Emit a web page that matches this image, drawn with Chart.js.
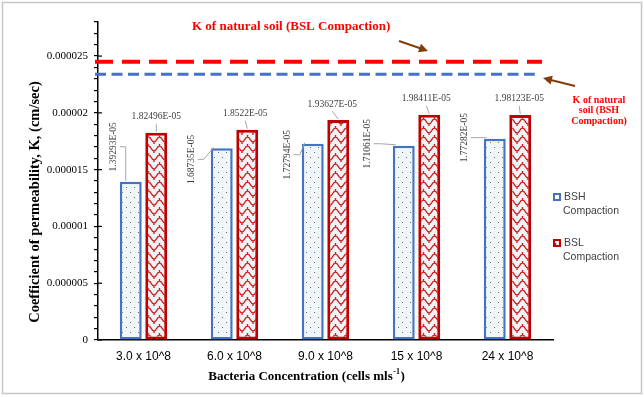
<!DOCTYPE html>
<html>
<head>
<meta charset="utf-8">
<script src="https://cdn.jsdelivr.net/npm/chart.js@4"></script>
<style>
    html, body { margin: 0; padding: 0; background: #fff; }
</style>
</head>
<body>
<canvas id="chart" width="644" height="397"></canvas>
<script>
const categories = ['3.0 x 10^8', '6.0 x 10^8', '9.0 x 10^8', '15 x 10^8', '24 x 10^8'];
const seriesNames = ['BSH Compaction', 'BSL Compaction'];
const bshValues = [1.39293e-5, 1.68735e-5, 1.72794e-5, 1.71061e-5, 1.77282e-5];
const bslValues = [1.82496e-5, 1.85220e-5, 1.93627e-5, 1.98411e-5, 1.98123e-5];
const yTickValues = [0, 0.000005, 0.00001, 0.000015, 0.00002, 0.000025];
const yMax = 0.000028;

// K of natural soil, drawn as dashed reference lines
const naturalSoilBSL = 0.0000245;
const naturalSoilBSH = 0.0000234;

// label placement tweaks (px), like the hand-moved labels of the original
const bshLabelShift = [[-17, -35], [-30, 11], [-25, 11], [-36, -2], [-30, -1]];
const bslLabelShift = [0, -2, -6, -3, -1];

const blue = '#4472C4';
const red = '#C00000';
const brown = '#843C0C';

const formatK = v => Number((v * 1e5).toPrecision(6)).toString() + 'E-05';

function dotPattern() {
    const c = document.createElement('canvas');
    c.width = 8; c.height = 10;
    const g = c.getContext('2d');
    g.fillStyle = '#f1f6f9';
    g.fillRect(0, 0, 8, 10);
    g.fillStyle = '#6b6b6b';
    g.fillRect(2, 2, 1, 1);
    g.fillRect(6, 7, 1, 1);
    return g.createPattern(c, 'repeat');
}

function wavePattern() {
    const c = document.createElement('canvas');
    c.width = 11; c.height = 9;
    const g = c.getContext('2d');
    g.fillStyle = '#eef3f6';
    g.fillRect(0, 0, 11, 9);
    g.strokeStyle = '#cf2020';
    g.lineWidth = 1.4;
    g.beginPath();
    g.moveTo(0, 7);
    g.bezierCurveTo(3, 7, 2.5, 2, 5.5, 2);
    g.bezierCurveTo(8.5, 2, 8, 7, 11, 7);
    g.moveTo(5.5, 2);
    g.lineTo(5.5, 0);
    g.moveTo(0, 7);
    g.lineTo(0, 9);
    g.moveTo(11, 7);
    g.lineTo(11, 9);
    g.stroke();
    return g.createPattern(c, 'repeat');
}

const dots = dotPattern();
const waves = wavePattern();

function arrow(ctx, x1, y1, x2, y2) {
    const a = Math.atan2(y2 - y1, x2 - x1);
    ctx.save();
    ctx.strokeStyle = brown;
    ctx.fillStyle = brown;
    ctx.lineWidth = 2;
    ctx.beginPath();
    ctx.moveTo(x1, y1);
    ctx.lineTo(x2 - 6 * Math.cos(a), y2 - 6 * Math.sin(a));
    ctx.stroke();
    ctx.beginPath();
    ctx.moveTo(x2, y2);
    ctx.lineTo(x2 - 9 * Math.cos(a) + 4.5 * Math.sin(a), y2 - 9 * Math.sin(a) - 4.5 * Math.cos(a));
    ctx.lineTo(x2 - 9 * Math.cos(a) - 4.5 * Math.sin(a), y2 - 9 * Math.sin(a) + 4.5 * Math.cos(a));
    ctx.closePath();
    ctx.fill();
    ctx.restore();
}

const decorations = {
    id: 'decorations',
    beforeDraw(chart) {
        const ctx = chart.ctx;
        ctx.save();
        ctx.fillStyle = '#fff';
        ctx.fillRect(0, 0, chart.width, chart.height);
        ctx.strokeStyle = '#c6c6c6';
        ctx.lineWidth = 1.5;
        ctx.strokeRect(2.5, 2.5, chart.width - 5, chart.height - 6);
        ctx.restore();
    },
    afterDraw(chart) {
        const { ctx, chartArea: area, scales: { y } } = chart;
        ctx.save();

        // major ticks crossing the axis
        ctx.strokeStyle = '#000';
        ctx.lineWidth = 1.2;
        yTickValues.forEach(v => {
            const py = y.getPixelForValue(v);
            ctx.beginPath();
            ctx.moveTo(area.left, py);
            ctx.lineTo(area.left + 4, py);
            ctx.stroke();
        });

        // natural soil reference lines
        const w = area.right - area.left;
        ctx.lineCap = 'butt';
        ctx.strokeStyle = '#FF0000';
        ctx.lineWidth = 4;
        ctx.setLineDash([18, 9]);
        let py = y.getPixelForValue(naturalSoilBSL);
        ctx.beginPath();
        ctx.moveTo(area.left - 3, py);
        ctx.lineTo(area.left + w * 0.976, py);
        ctx.stroke();
        ctx.strokeStyle = blue;
        ctx.lineWidth = 3;
        ctx.setLineDash([11, 5.5]);
        py = y.getPixelForValue(naturalSoilBSH);
        ctx.beginPath();
        ctx.moveTo(area.left - 3, py);
        ctx.lineTo(area.left + w * 0.96, py);
        ctx.stroke();
        ctx.setLineDash([]);

        arrow(ctx, 399, 41, 428, 51);
        arrow(ctx, 575, 86, 543, 78);

        ctx.fillStyle = '#FF0000';
        ctx.font = 'bold 13px "Liberation Serif"';
        ctx.textAlign = 'left';
        ctx.textBaseline = 'middle';
        ctx.fillText('K of natural soil (BSL Compaction)', 192, 27);
        ctx.font = 'bold 10px "Liberation Serif"';
        ctx.textAlign = 'center';
        ['K of natural', 'soil (BSH', 'Compaction)'].forEach((t, i) => ctx.fillText(t, 599, 100 + i * 10.5));

        // data labels with leader lines
        ctx.font = '9.5px "Liberation Serif"';
        ctx.fillStyle = '#404040';
        ctx.strokeStyle = '#a6a6a6';
        ctx.lineWidth = 1;
        chart.getDatasetMeta(0).data.forEach((bar, i) => {
            const lx = bar.x + bshLabelShift[i][0];
            const ly = bar.y + bshLabelShift[i][1];
            ctx.save();
            ctx.translate(lx, ly);
            ctx.rotate(-Math.PI / 2);
            ctx.textAlign = 'center';
            ctx.fillText(formatK(bshValues[i]), 0, 0);
            ctx.restore();
            const ex = lx + 12;
            const tx = Math.max(ex, bar.x - 8);
            ctx.beginPath();
            ctx.moveTo(lx + 6, ly);
            ctx.lineTo(ex, ly);
            ctx.lineTo(tx, bar.y - 1);
            ctx.stroke();
        });
        chart.getDatasetMeta(1).data.forEach((bar, i) => {
            const lx = bar.x + bslLabelShift[i];
            const ly = bar.y - 16;
            ctx.textAlign = 'center';
            ctx.fillText(formatK(bslValues[i]), lx, ly);
            ctx.beginPath();
            ctx.moveTo(lx, ly + 7);
            ctx.lineTo(bar.x, bar.y - 1);
            ctx.stroke();
        });

        // legend
        const legendX = area.right;
        [[197, 211], [243, 257]].forEach(([ty, cy], i) => {
            ctx.fillStyle = i === 0 ? '#fff' : waves;
            ctx.fillRect(legendX, ty - 4, 8, 8);
            ctx.strokeStyle = i === 0 ? blue : red;
            ctx.lineWidth = 2;
            ctx.strokeRect(legendX + 1, ty - 3, 6, 6);
            ctx.fillStyle = '#404040';
            ctx.font = '10.5px "Liberation Sans"';
            ctx.textAlign = 'left';
            const [first, second] = seriesNames[i].split(' ');
            ctx.fillText(first, legendX + 11, ty);
            ctx.fillText(second, legendX + 10, cy);
        });

        // axis titles
        ctx.fillStyle = '#000';
        ctx.font = 'bold 14.5px "Liberation Serif"';
        ctx.save();
        ctx.translate(35, 202);
        ctx.rotate(-Math.PI / 2);
        ctx.textAlign = 'center';
        ctx.fillText('Coefficient of permeability, K, (cm/sec)', 0, 0);
        ctx.restore();

        const main = 'Bacteria Concentration (cells mls';
        ctx.font = 'bold 13px "Liberation Serif"';
        const w1 = ctx.measureText(main).width;
        const w3 = ctx.measureText(')').width;
        ctx.font = 'bold 8px "Liberation Serif"';
        const w2 = ctx.measureText('-1').width;
        let x0 = 306 - (w1 + w2 + w3) / 2;
        ctx.textAlign = 'left';
        ctx.font = 'bold 13px "Liberation Serif"';
        ctx.fillText(main, x0, 377);
        ctx.font = 'bold 8px "Liberation Serif"';
        ctx.fillText('-1', x0 + w1 + 0.5, 372);
        ctx.font = 'bold 13px "Liberation Serif"';
        ctx.fillText(')', x0 + w1 + w2 + 1, 377);

        ctx.restore();
    }
};

new Chart(document.getElementById('chart'), {
    type: 'bar',
    data: {
        labels: categories,
        datasets: [
            {
                label: seriesNames[0],
                data: bshValues,
                backgroundColor: dots,
                borderColor: blue,
                borderWidth: 2.5,
                borderSkipped: false,
                barPercentage: 0.86,
                categoryPercentage: 0.56
            },
            {
                label: seriesNames[1],
                data: bslValues,
                backgroundColor: waves,
                borderColor: red,
                borderWidth: 3,
                borderSkipped: false,
                barPercentage: 0.86,
                categoryPercentage: 0.56
            }
        ]
    },
    options: {
        responsive: false,
        devicePixelRatio: 1,
        animation: false,
        layout: { padding: { left: 0, right: 91, top: 22, bottom: 0 } },
        plugins: {
            legend: { display: false },
            tooltip: { enabled: false }
        },
        scales: {
            x: {
                grid: { display: false },
                border: { display: true, color: '#000', width: 1.5 },
                ticks: {
                    color: '#000',
                    padding: 1,
                    font: { family: '"Liberation Sans"', size: 12 }
                },
                afterFit: axis => { axis.height = 57; }
            },
            y: {
                min: 0,
                max: yMax,
                afterBuildTicks: axis => {
                    const ticks = [];
                    for (let i = 0; i <= 28; i++) ticks.push({ value: i / 1e6 });
                    axis.ticks = ticks;
                },
                grid: {
                    drawOnChartArea: false,
                    color: '#000',
                    tickLength: 4,
                    lineWidth: 1.2
                },
                border: { display: true, color: '#000', width: 1.5 },
                ticks: {
                    autoSkip: false,
                    color: '#000',
                    padding: 6,
                    font: { family: '"Liberation Serif"', size: 11 },
                    callback: value => {
                        const v = Number(value.toFixed(7));
                        return yTickValues.includes(v) ? String(v) : '';
                    }
                },
                afterFit: axis => { axis.width = 98; }
            }
        }
    },
    plugins: [decorations]
});
</script>
</body>
</html>
